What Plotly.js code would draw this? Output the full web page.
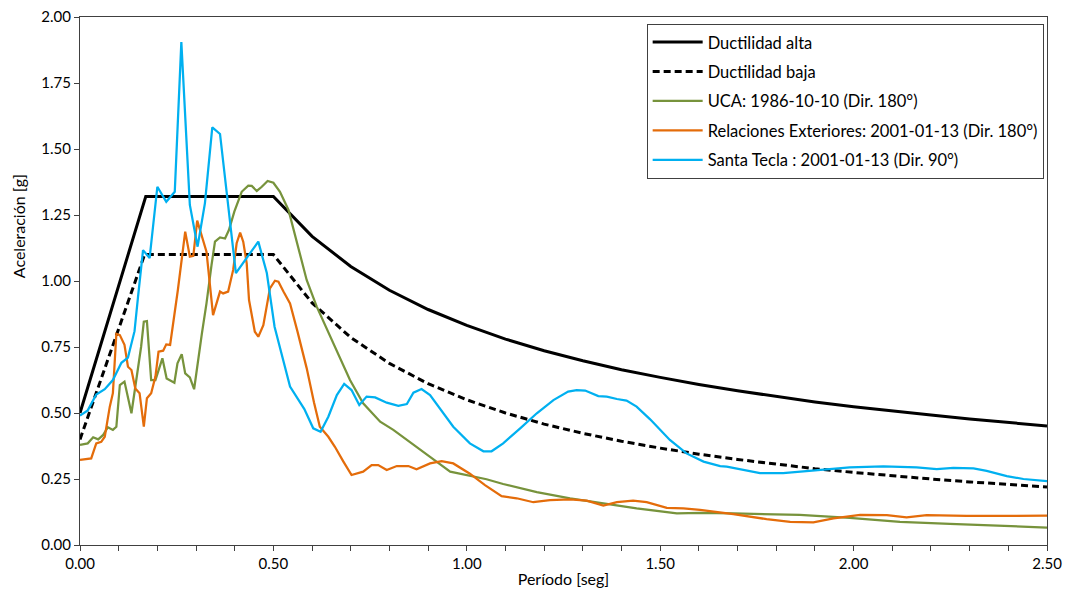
<!DOCTYPE html>
<html>
<head>
<meta charset="utf-8">
<script src="https://cdn.plot.ly/plotly-3.0.1.min.js"></script>
<style>html,body{margin:0;padding:0;background:#fff;}#chart{width:1068px;height:591px;}</style>
</head>
<body>
<div id="chart"></div>
<script>
// Design spectra
const altaT = [0, 0.17, 0.50, 0.6, 0.7, 0.8, 0.9, 1.0, 1.1, 1.2, 1.3, 1.4, 1.5, 1.6, 1.7, 1.8, 1.9, 2.0, 2.1, 2.2, 2.3, 2.4, 2.5];
const altaA = [0.50, 1.32, 1.32, 1.169, 1.055, 0.965, 0.892, 0.832, 0.780, 0.736, 0.698, 0.664, 0.635, 0.608, 0.584, 0.562, 0.542, 0.524, 0.507, 0.492, 0.477, 0.464, 0.451];
const bajaT = [0, 0.167, 0.50, 0.6, 0.7, 0.8, 0.9, 1.0, 1.1, 1.2, 1.3, 1.4, 1.5, 1.6, 1.7, 1.8, 1.9, 2.0, 2.1, 2.2, 2.3, 2.4, 2.5];
const bajaA = [0.40, 1.10, 1.10, 0.917, 0.786, 0.688, 0.611, 0.55, 0.50, 0.458, 0.423, 0.393, 0.367, 0.344, 0.324, 0.306, 0.289, 0.275, 0.262, 0.25, 0.239, 0.229, 0.22];

// UCA: 1986-10-10 (Dir. 180°)
const ucaT = [0.000,0.020,0.034,0.047,0.060,0.072,0.085,0.094,0.103,0.115,0.133,0.146,0.158,0.165,0.173,0.184,0.195,0.213,0.224,0.244,0.252,0.263,0.272,0.284,0.295,0.315,0.327,0.340,0.349,0.362,0.375,0.385,0.399,0.418,0.435,0.444,0.457,0.470,0.485,0.500,0.517,0.539,0.564,0.586,0.612,0.655,0.698,0.732,0.776,0.810,0.853,0.905,0.957,1.000,1.051,1.094,1.181,1.267,1.353,1.439,1.543,1.603,1.689,1.861,1.990,2.120,2.249,2.378,2.500];
const ucaA = [0.379,0.385,0.408,0.400,0.417,0.446,0.436,0.448,0.606,0.619,0.499,0.625,0.751,0.846,0.848,0.625,0.625,0.707,0.631,0.615,0.688,0.723,0.650,0.635,0.590,0.800,0.915,1.060,1.149,1.165,1.161,1.193,1.263,1.338,1.361,1.360,1.341,1.357,1.379,1.372,1.338,1.269,1.130,1.004,0.903,0.764,0.625,0.537,0.467,0.436,0.391,0.334,0.278,0.265,0.249,0.231,0.200,0.177,0.158,0.139,0.120,0.122,0.120,0.114,0.103,0.088,0.080,0.072,0.066];

// Relaciones Exteriores: 2001-01-13 (Dir. 180°)
const relT = [0.000,0.029,0.042,0.055,0.064,0.077,0.085,0.094,0.103,0.115,0.124,0.133,0.143,0.154,0.165,0.173,0.184,0.195,0.203,0.215,0.223,0.233,0.253,0.272,0.284,0.293,0.303,0.314,0.327,0.344,0.362,0.370,0.383,0.396,0.405,0.414,0.422,0.431,0.437,0.452,0.461,0.474,0.491,0.504,0.513,0.526,0.543,0.562,0.586,0.605,0.620,0.642,0.659,0.681,0.702,0.732,0.754,0.771,0.793,0.819,0.849,0.870,0.905,0.935,0.965,1.008,1.047,1.090,1.129,1.172,1.215,1.267,1.310,1.353,1.388,1.430,1.465,1.517,1.560,1.603,1.655,1.689,1.775,1.836,1.896,1.948,2.017,2.086,2.137,2.189,2.292,2.378,2.500];
const relA = [0.322,0.328,0.385,0.391,0.410,0.524,0.575,0.800,0.795,0.758,0.675,0.663,0.593,0.575,0.448,0.556,0.575,0.638,0.732,0.736,0.760,0.758,0.966,1.187,1.092,1.095,1.229,1.170,1.111,0.871,0.960,0.953,0.960,1.042,1.143,1.183,1.149,1.067,0.928,0.808,0.789,0.833,0.972,1.001,0.997,0.960,0.915,0.810,0.670,0.540,0.448,0.410,0.372,0.316,0.265,0.278,0.303,0.303,0.284,0.299,0.299,0.287,0.309,0.318,0.309,0.270,0.227,0.185,0.177,0.162,0.170,0.173,0.168,0.149,0.162,0.168,0.162,0.141,0.139,0.133,0.124,0.117,0.098,0.088,0.086,0.101,0.114,0.113,0.105,0.113,0.110,0.111,0.111];

// Santa Tecla : 2001-01-13 (Dir. 90°)
const stT = [0.000,0.020,0.042,0.064,0.085,0.107,0.124,0.141,0.150,0.163,0.180,0.200,0.223,0.245,0.262,0.284,0.304,0.323,0.342,0.362,0.403,0.461,0.483,0.503,0.543,0.580,0.603,0.622,0.642,0.664,0.683,0.702,0.722,0.741,0.763,0.793,0.823,0.845,0.862,0.883,0.905,0.931,0.965,1.008,1.043,1.064,1.094,1.138,1.181,1.224,1.262,1.284,1.306,1.340,1.362,1.388,1.413,1.439,1.474,1.525,1.568,1.612,1.655,1.672,1.758,1.818,1.905,1.990,2.077,2.163,2.215,2.258,2.310,2.344,2.396,2.439,2.500];
const stA = [0.490,0.510,0.570,0.590,0.625,0.690,0.710,0.810,0.940,1.117,1.087,1.357,1.300,1.338,1.905,1.288,1.130,1.295,1.582,1.557,1.030,1.149,1.030,0.827,0.600,0.515,0.442,0.429,0.486,0.568,0.610,0.587,0.530,0.562,0.559,0.539,0.527,0.534,0.577,0.591,0.568,0.518,0.448,0.385,0.355,0.355,0.385,0.442,0.499,0.549,0.581,0.587,0.585,0.564,0.562,0.553,0.547,0.524,0.476,0.398,0.347,0.316,0.299,0.297,0.272,0.272,0.284,0.294,0.298,0.294,0.287,0.292,0.290,0.281,0.261,0.250,0.242];

const names = ["Ductilidad alta", "Ductilidad baja", "UCA: 1986-10-10 (Dir. 180°)", "Relaciones Exteriores: 2001-01-13 (Dir. 180°)", "Santa Tecla : 2001-01-13 (Dir. 90°)"];
const xTitle = "Período [seg]";
const yTitle = "Aceleración [g]";
const xTickVals = [0, 0.5, 1.0, 1.5, 2.0, 2.5];
const yTickVals = [0, 0.25, 0.5, 0.75, 1.0, 1.25, 1.5, 1.75, 2.0];

const FONT = "Lato, 'Liberation Sans', sans-serif";
const traces = [
  {x: altaT, y: altaA, name: names[0], legendgroup: "a", mode: "lines", line: {color: "#000000", width: 3}},
  {x: bajaT, y: bajaA, name: names[1], legendgroup: "b", mode: "lines", line: {color: "#000000", width: 3, dash: "7px,4px"}},
  {x: ucaT, y: ucaA, name: names[2], legendgroup: "c", mode: "lines", line: {color: "#77933C", width: 2.25}},
  {x: relT, y: relA, name: names[3], legendgroup: "d", mode: "lines", line: {color: "#E46C0A", width: 2.25}},
  {x: stT, y: stA, name: names[4], legendgroup: "e", mode: "lines", line: {color: "#00B0F0", width: 2.25}}
];

const layout = {
  width: 1068, height: 591,
  margin: {l: 80, r: 21, t: 17, b: 46},
  paper_bgcolor: "#ffffff", plot_bgcolor: "#ffffff",
  font: {family: FONT, size: 15, color: "#000000"},
  showlegend: true,
  legend: {
    x: 0.586, y: 0.987, xanchor: "left", yanchor: "top",
    bordercolor: "#404040", borderwidth: 1, bgcolor: "#ffffff",
    font: {family: FONT, size: 16.5, color: "#000000"},
    traceorder: "grouped", tracegroupgap: 5, itemwidth: 50
  },
  xaxis: {
    range: [0, 2.5], tickvals: xTickVals, tickformat: ".2f",
    showgrid: false, zeroline: false,
    showline: true, linecolor: "#404040", linewidth: 1, mirror: true,
    ticks: "outside", ticklen: 5, tickcolor: "#404040",
    minor: {dtick: 0.1, tick0: 0, ticks: "outside", ticklen: 5, tickcolor: "#404040", showgrid: false},
    tickfont: {family: FONT, size: 15, color: "#000000"},
    title: {text: xTitle, font: {family: FONT, size: 16, color: "#000000"}, standoff: 2}
  },
  yaxis: {
    range: [0, 2.0], tickvals: yTickVals, tickformat: ".2f",
    showgrid: false, zeroline: false,
    showline: true, linecolor: "#404040", linewidth: 1, mirror: true,
    ticks: "outside", ticklen: 5, tickcolor: "#404040",
    tickfont: {family: FONT, size: 15, color: "#000000"}
  },
  annotations: [
    {text: yTitle, xref: "paper", yref: "paper", x: -0.064, y: 0.604,
     xanchor: "center", yanchor: "middle", textangle: -90, showarrow: false,
     font: {family: FONT, size: 16, color: "#000000"}}
  ]
};

Plotly.newPlot("chart", traces, layout, {displayModeBar: false, staticPlot: true});
</script>
</body>
</html>
